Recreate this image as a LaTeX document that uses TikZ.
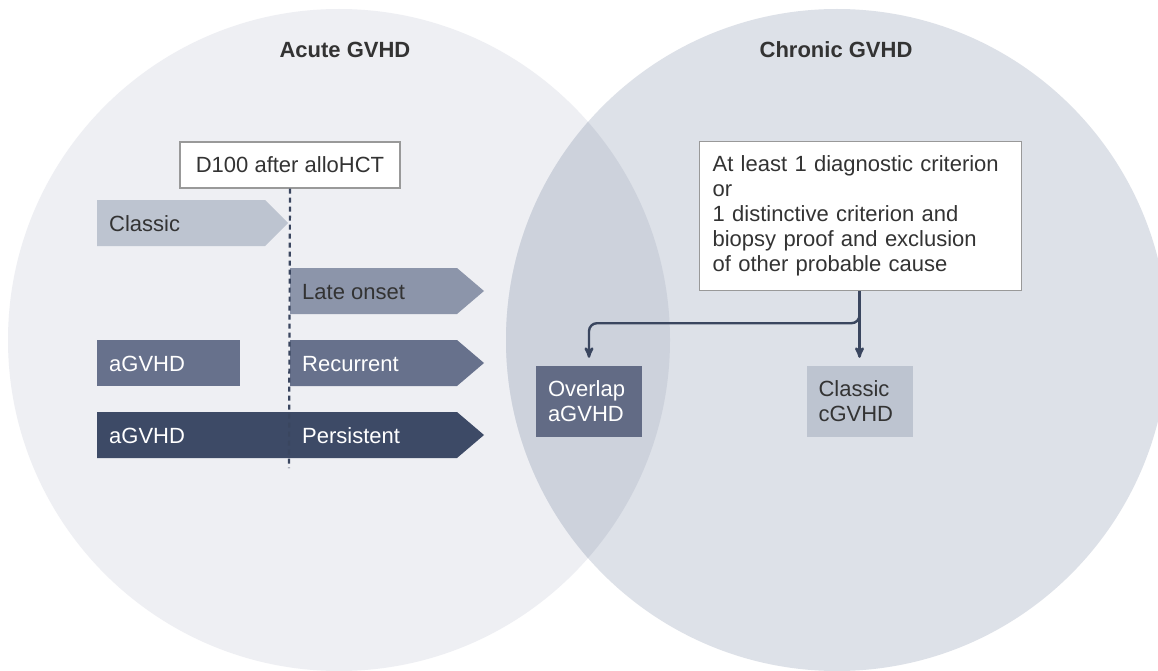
\documentclass[tikz,border=0pt]{standalone}
\usepackage{fontspec}
\setmainfont{Liberation Sans}
\usepackage{xcolor}
\definecolor{acutebg}{HTML}{EEEFF3}
\definecolor{chronbg}{HTML}{DDE1E8}
\definecolor{lensbg}{HTML}{CDD2DC}
\definecolor{gvlight}{HTML}{BDC4D0}
\definecolor{gvmid}{HTML}{8C95AA}
\definecolor{gvdark}{HTML}{67718C}
\definecolor{gvnavy}{HTML}{3D4A66}
\definecolor{gvline}{HTML}{3A465F}
\definecolor{gvtext}{HTML}{333333}
\usetikzlibrary{arrows,positioning}

\begin{document}
\begin{tikzpicture}[x=1pt,y=-1pt,>=stealth',font=\fontsize{22}{25}\selectfont]
            \tikzstyle{lbl}=[anchor=base west,inner sep=0pt,text=gvtext]
            \tikzstyle{wlbl}=[anchor=base west,inner sep=0pt,text=white]
            \tikzstyle{title}=[font=\fontsize{22}{25}\selectfont\bfseries,text=gvtext]
            \tikzstyle{wbox}=[draw=gray!80,line width=1.2pt,fill=white,text=gvtext]
            \tikzstyle{res}=[minimum width=106pt,minimum height=71pt,text width=82pt,align=left,inner xsep=12pt]
            \tikzstyle{conn}=[->,draw=gvline,line width=2.4pt,shorten >=8pt]

            \useasboundingbox (0,0) rectangle (1158,671);
            \fill[white] (0,0) rectangle (1158,671);

            % the two sets and their overlap
            \fill[acutebg] (339,340) circle (331);
            \fill[chronbg] (837,340) circle (331);
            \begin{scope}
                \clip (339,340) circle (331);
                \fill[lensbg] (837,340) circle (331);
            \end{scope}

            \node[title] (acute)   at (345,50) {Acute GVHD};
            \node[title] (chronic) at (836,50) {Chronic GVHD};

            % timeline bands
            \fill[gvlight] (97,200) -- (265,200) -- (288,223) -- (265,246) -- (97,246) -- cycle;
            \fill[gvmid]   (290,268) -- (457,268) -- (484,291) -- (457,314) -- (290,314) -- cycle;
            \fill[gvdark]  (97,340) rectangle (240,386);
            \fill[gvdark]  (290,340) -- (457,340) -- (484,363) -- (457,386) -- (290,386) -- cycle;
            \fill[gvnavy]  (97,412) -- (457,412) -- (484,435) -- (457,458) -- (97,458) -- cycle;

            \node[lbl]  (classic) at (109,231) {Classic};
            \node[lbl]  (late)    at (302,299) {Late onset};
            \node[wlbl] (agvhdA)  at (109,371) {aGVHD};
            \node[wlbl] (recur)   at (302,371) {Recurrent};
            \node[wlbl] (agvhdB)  at (109,443) {aGVHD};
            \node[wlbl] (persist) at (302,443) {Persistent};

            \node[wbox,minimum width=220pt,minimum height=46pt] (d100) at (290,165) {D100 after alloHCT};
            \coordinate (dend) at (289,468);
            \draw[gvline,line width=2.2pt,dash pattern=on 5pt off 4pt] (d100.south) -- (dend);

            % chronic criteria
            \node[wbox,anchor=north west,minimum width=322pt,minimum height=149pt,
                  text width=296pt,align=left,inner xsep=13pt] (crit) at (699,141)
                {At least 1 diagnostic criterion\\or\\1 distinctive criterion and\\biopsy proof and exclusion\\of other probable cause};

            \node[res,fill=gvdark!95!black,text=white] (overlap) at (589,401.5) {Overlap\\aGVHD};
            \node[res,fill=gvlight,text=gvtext]         (cgvhd)   at (859.5,401.5) {Classic\\cGVHD};

            \draw[conn] (crit.south -| cgvhd) -- (cgvhd.north);
            \draw[conn,rounded corners=8pt] (crit.south -| cgvhd) -- ++(0,32) -| (overlap.north);

        \end{tikzpicture}
\end{document}
